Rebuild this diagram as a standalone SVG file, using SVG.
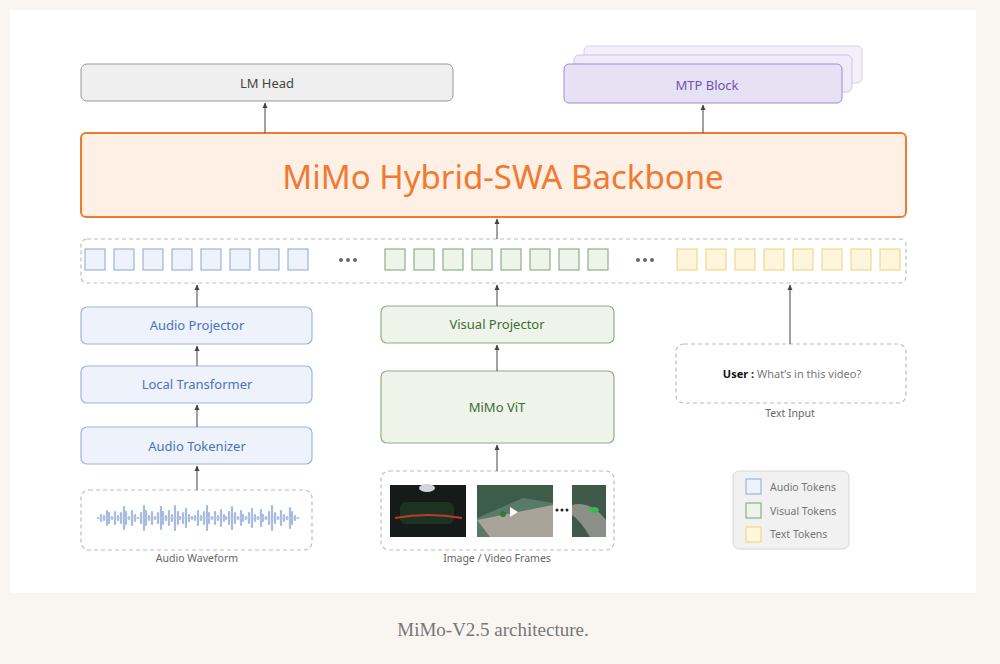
<svg xmlns="http://www.w3.org/2000/svg" width="1000" height="664" viewBox="0 0 1000 664">
<style>
text{font-family:"Noto Sans","Liberation Sans",sans-serif}
.ab{fill:#eef2fa;stroke:#9db4dc;stroke-width:1.2}
.at{fill:#4a72c0;font-size:13px;text-anchor:middle}
.vb{fill:#eef4ea;stroke:#8fae87;stroke-width:1.2}
.vt{fill:#3d6b36;font-size:13px;text-anchor:middle}
.yb{fill:#fdf5dc;stroke:#f0d890;stroke-width:1.2}
.dash{fill:#fff;stroke:#bdbdbd;stroke-width:1.2;stroke-dasharray:4 3}
.lbl{fill:#666;font-size:10.5px;text-anchor:middle}
.ar{stroke:#444;stroke-width:1;marker-end:url(#ah)}
.dot{fill:#666}
</style>
<defs><marker id="ah" markerWidth="6" markerHeight="6" refX="5" refY="3" orient="auto"><path d="M0,0.5 L5.5,3 L0,5.5z" fill="#444"/></marker></defs>
<rect width="1000" height="664" fill="#f9f6f2"/>
<rect x="10" y="10" width="966" height="583" fill="#fff"/>
<text x="493" y="636" font-size="19" fill="#777" text-anchor="middle" style="font-family:'Liberation Serif',serif">MiMo-V2.5 architecture.</text>

<g id="lmhead"><rect x="81" y="64" width="372" height="37" rx="6" fill="#efefef" stroke="#999"/><text x="267" y="88" font-size="13" fill="#444" text-anchor="middle">LM Head</text></g>
<g id="mtp">
<rect x="584" y="46" width="278" height="37" rx="5" fill="#f3f0fa" stroke="#d6cdea"/>
<rect x="574" y="55" width="278" height="37" rx="5" fill="#efebf8" stroke="#cfc4e6"/>
<rect x="564" y="64" width="278" height="39" rx="5" fill="#e7e1f4" stroke="#9f8bcd"/>
<text x="707" y="90" font-size="13" fill="#6e52b0" text-anchor="middle">MTP Block</text></g>
<g id="backbone"><rect x="81" y="133" width="825" height="84" rx="5" fill="#fff0e6" stroke="#f07a30" stroke-width="2"/><text x="503" y="189" font-size="33" fill="#f07a30" text-anchor="middle">MiMo Hybrid-SWA Backbone</text></g>

<g id="tokens">
<rect x="81" y="239" width="825" height="44" rx="6" class="dash"/>
<g class="ab"><rect x="85" y="249" width="20" height="21"/><rect x="114" y="249" width="20" height="21"/><rect x="143" y="249" width="20" height="21"/><rect x="172" y="249" width="20" height="21"/><rect x="201" y="249" width="20" height="21"/><rect x="230" y="249" width="20" height="21"/><rect x="259" y="249" width="20" height="21"/><rect x="288" y="249" width="20" height="21"/></g>
<g class="dot"><circle cx="341" cy="260" r="2"/><circle cx="348" cy="260" r="2"/><circle cx="355" cy="260" r="2"/><circle cx="638" cy="260" r="2"/><circle cx="645" cy="260" r="2"/><circle cx="652" cy="260" r="2"/></g>
<g class="vb"><rect x="385" y="249" width="20" height="21"/><rect x="414" y="249" width="20" height="21"/><rect x="443" y="249" width="20" height="21"/><rect x="472" y="249" width="20" height="21"/><rect x="501" y="249" width="20" height="21"/><rect x="530" y="249" width="20" height="21"/><rect x="559" y="249" width="20" height="21"/><rect x="588" y="249" width="20" height="21"/></g>
<g class="yb"><rect x="677" y="249" width="20" height="21"/><rect x="706" y="249" width="20" height="21"/><rect x="735" y="249" width="20" height="21"/><rect x="764" y="249" width="20" height="21"/><rect x="793" y="249" width="20" height="21"/><rect x="822" y="249" width="20" height="21"/><rect x="851" y="249" width="20" height="21"/><rect x="880" y="249" width="20" height="21"/></g>
</g>

<g id="audioProjector"><rect x="81" y="307" width="231" height="37" rx="6" class="ab"/><text x="197" y="330" class="at">Audio Projector</text></g>
<g id="localTransformer"><rect x="81" y="366" width="231" height="37" rx="6" class="ab"/><text x="197" y="389" class="at">Local Transformer</text></g>
<g id="audioTokenizer"><rect x="81" y="427" width="231" height="37" rx="6" class="ab"/><text x="197" y="451" class="at">Audio Tokenizer</text></g>
<g id="waveform"><rect x="81" y="490" width="231" height="60" rx="8" class="dash"/>
<path stroke="#a6bbe0" stroke-width="2.2" stroke-linecap="round" d="M98,518v0 M101,515v6 M104,516v4 M107,511v14 M109,513v10 M112,517v2 M115,512v12 M118,516v4 M121,513v10 M124,507v22 M126,512v12 M129,517v2 M132,511v14 M135,515v6 M138,518v0 M141,513v10 M144,506v24 M146,511v14 M149,516v4 M152,512v12 M155,517v2 M158,513v10 M161,507v22 M163,512v12 M166,516v4 M169,511v14 M172,515v6 M175,506v24 M178,512v12 M180,517v2 M183,513v10 M186,509v18 M189,515v6 M192,517v2 M195,516v4 M198,511v14 M201,516v4 M204,512v12 M207,506v24 M209,513v10 M212,517v2 M215,512v12 M218,516v4 M221,510v16 M224,515v6 M226,517v2 M229,512v12 M232,507v22 M235,513v10 M238,517v2 M241,511v14 M243,515v6 M246,517v2 M249,513v10 M252,509v18 M255,515v6 M258,517v2 M261,510v16 M263,515v6 M266,517v2 M269,512v12 M272,506v24 M275,513v10 M278,517v2 M281,511v14 M284,515v6 M287,517v2 M290,508v20 M292,512v12 M295,516v4 M298,518v0" fill="none"/>
<path stroke="#b8c9e8" stroke-width="1.2" d="M98,518H298"/>
<text x="197" y="562" class="lbl">Audio Waveform</text></g>

<g id="visualProjector"><rect x="381" y="306" width="233" height="37" rx="6" class="vb"/><text x="497" y="329" class="vt">Visual Projector</text></g>
<g id="vit"><rect x="381" y="371" width="233" height="72" rx="6" class="vb"/><text x="497" y="412" class="vt">MiMo ViT</text></g>
<g id="frames"><rect x="381" y="471" width="233" height="79" rx="8" class="dash"/>
<rect x="390" y="485" width="76" height="52" fill="#161a18"/><ellipse cx="427" cy="488" rx="8" ry="4" fill="#cfd5d8"/><rect x="400" y="502" width="54" height="22" rx="6" fill="#1f3a26" opacity="0.8"/><path d="M395,518 Q428,512 462,518" stroke="#c0392b" stroke-width="2" fill="none"/>
<rect x="477" y="485" width="76" height="52" fill="#5a7a68"/><path d="M477,485h76v18l-30,-5 -46,20z" fill="#3d5d4a"/><path d="M477,520 L553,505 L553,537 L490,537z" fill="#a8a49a"/><circle cx="503" cy="514" r="3" fill="#2d7a3a"/><path d="M510,507 l8,5 -8,5z" fill="#fff"/>
<circle cx="557" cy="510" r="1.5" fill="#222"/><circle cx="562" cy="510" r="1.5" fill="#222"/><circle cx="567" cy="510" r="1.5" fill="#222"/>
<rect x="572" y="485" width="34" height="52" fill="#3f5a48"/><path d="M572,505 Q590,500 606,520 L606,537 L590,537 Q580,520 572,515z" fill="#8a9088"/><ellipse cx="594" cy="510" rx="5" ry="3" fill="#3cb85a"/>
<text x="497" y="562" class="lbl">Image / Video Frames</text></g>

<g id="textInput"><rect x="676" y="344" width="230" height="59" rx="8" class="dash"/><text x="792" y="378" font-size="11" text-anchor="middle"><tspan font-weight="bold" fill="#111">User : </tspan><tspan fill="#777">What’s in this video?</tspan></text><text x="790" y="417" class="lbl">Text Input</text></g>

<g id="legend"><rect x="733" y="471" width="116" height="78" rx="6" fill="#f1f1f1" stroke="#d6d6d6"/>
<rect x="746" y="479" width="15" height="15" class="ab"/><text x="770" y="491" font-size="10.5" fill="#777">Audio Tokens</text>
<rect x="746" y="503" width="15" height="15" class="vb"/><text x="770" y="515" font-size="10.5" fill="#777">Visual Tokens</text>
<rect x="746" y="527" width="15" height="15" class="yb"/><text x="770" y="538" font-size="10.5" fill="#777">Text Tokens</text></g>

<g id="connectors">
<line x1="265" y1="133" x2="265" y2="103" class="ar"/>
<line x1="703" y1="133" x2="703" y2="105" class="ar"/>
<line x1="497" y1="239" x2="497" y2="219" class="ar"/>
<line x1="197" y1="307" x2="197" y2="285" class="ar"/>
<line x1="197" y1="366" x2="197" y2="346" class="ar"/>
<line x1="197" y1="427" x2="197" y2="405" class="ar"/>
<line x1="197" y1="490" x2="197" y2="466" class="ar"/>
<line x1="497" y1="306" x2="497" y2="285" class="ar"/>
<line x1="497" y1="371" x2="497" y2="345" class="ar"/>
<line x1="497" y1="471" x2="497" y2="445" class="ar"/>
<line x1="790" y1="344" x2="790" y2="285" class="ar"/>
</g>
</svg>
